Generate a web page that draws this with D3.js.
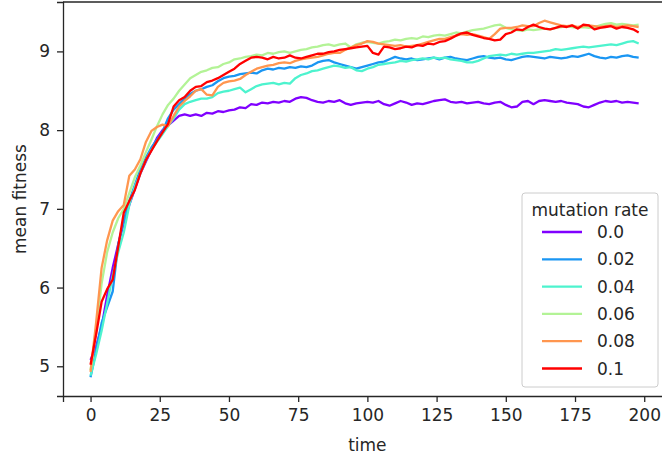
<!DOCTYPE html>
<html lang="en">
<head>
    <meta charset="UTF-8">
    <title>mean fitness</title>
    <style>
        body { margin: 0; background: #fff; }
        text { font-family: "DejaVu Sans", sans-serif; fill: #262626; }
        .axis path, .axis line { stroke: #262626; }
    </style>
</head>
<body>
    <div id="chart"></div>
    <script src="https://d3js.org/d3.v7.min.js"></script>
    <script>
        // sampled every 2 time steps
        const time = d3.range(0, 200, 2);
        const rates = ["0.0", "0.02", "0.04", "0.06", "0.08", "0.1"];
        const colors = ["#8000ff", "#1a96f3", "#4df3ce", "#b3f396", "#ff964f", "#ff0000"];

        const rate0 = [5.08,5.25,5.50,5.90,6.25,6.55,6.82,7.05,7.25,7.45,7.60,7.75,7.90,8.00,8.06,8.12,8.18,8.20,8.18,8.20,
            8.18,8.22,8.21,8.24,8.23,8.25,8.26,8.29,8.28,8.33,8.32,8.35,8.34,8.36,8.35,8.37,8.36,8.40,8.42,8.41,
            8.38,8.36,8.35,8.37,8.36,8.38,8.34,8.32,8.34,8.35,8.36,8.35,8.37,8.33,8.31,8.34,8.37,8.35,8.32,8.34,
            8.33,8.35,8.37,8.38,8.39,8.36,8.35,8.36,8.34,8.35,8.36,8.34,8.33,8.35,8.36,8.32,8.29,8.30,8.36,8.37,
            8.33,8.37,8.38,8.37,8.36,8.37,8.35,8.34,8.33,8.30,8.29,8.32,8.35,8.37,8.36,8.37,8.35,8.36,8.35,8.34];
        const rate002 = [4.86,5.20,5.55,5.75,5.95,6.55,6.85,7.10,7.30,7.50,7.65,7.78,7.88,7.98,8.15,8.26,8.33,8.40,8.46,8.50,
            8.52,8.55,8.57,8.62,8.66,8.68,8.69,8.71,8.72,8.73,8.72,8.76,8.78,8.77,8.79,8.78,8.80,8.79,8.81,8.80,
            8.82,8.86,8.88,8.89,8.86,8.84,8.82,8.80,8.78,8.80,8.82,8.84,8.86,8.87,8.90,8.93,8.91,8.90,8.91,8.89,
            8.90,8.91,8.92,8.90,8.92,8.93,8.91,8.90,8.89,8.91,8.93,8.94,8.92,8.91,8.92,8.90,8.89,8.91,8.93,8.94,
            8.93,8.92,8.91,8.93,8.92,8.91,8.92,8.94,8.93,8.95,8.97,8.94,8.92,8.91,8.93,8.92,8.94,8.95,8.93,8.92];
        const rate004 = [4.88,5.15,5.45,5.80,6.15,6.45,6.70,7.05,7.28,7.45,7.62,7.75,7.85,7.95,8.05,8.15,8.26,8.33,8.36,8.38,
            8.40,8.40,8.42,8.47,8.49,8.50,8.52,8.54,8.48,8.52,8.56,8.58,8.59,8.60,8.58,8.60,8.59,8.66,8.70,8.72,
            8.75,8.76,8.78,8.80,8.82,8.81,8.79,8.80,8.76,8.75,8.78,8.80,8.83,8.84,8.85,8.86,8.88,8.87,8.89,8.90,
            8.91,8.90,8.92,8.91,8.92,8.90,8.89,8.88,8.86,8.86,8.88,8.91,8.94,8.95,8.96,8.95,8.97,8.96,8.97,8.98,
            8.98,8.99,9.00,9.01,9.03,9.02,9.03,9.04,9.05,9.06,9.05,9.06,9.07,9.08,9.09,9.08,9.10,9.12,9.13,9.10];
        const rate006 = [4.95,5.45,6.05,6.45,6.70,6.88,7.00,7.20,7.40,7.55,7.72,7.88,8.05,8.20,8.32,8.40,8.50,8.58,8.66,8.70,
            8.74,8.76,8.79,8.80,8.84,8.86,8.90,8.91,8.93,8.94,8.96,8.95,8.98,8.97,8.99,9.00,8.98,9.00,9.02,9.03,
            9.05,9.06,9.08,9.09,9.07,9.09,9.10,9.05,9.09,9.11,9.12,9.11,9.10,9.12,9.13,9.15,9.14,9.16,9.17,9.16,
            9.19,9.18,9.20,9.21,9.20,9.22,9.24,9.23,9.25,9.27,9.28,9.29,9.31,9.33,9.34,9.30,9.28,9.27,9.26,9.28,
            9.27,9.28,9.29,9.28,9.30,9.31,9.32,9.31,9.30,9.31,9.30,9.31,9.33,9.35,9.36,9.34,9.35,9.34,9.33,9.34];
        const rate008 = [4.93,5.55,6.25,6.60,6.85,6.97,7.05,7.42,7.50,7.63,7.85,7.99,8.04,8.07,8.05,8.18,8.30,8.37,8.43,8.50,
            8.52,8.45,8.44,8.55,8.60,8.62,8.63,8.65,8.70,8.74,8.78,8.80,8.82,8.83,8.85,8.86,8.85,8.88,8.90,8.91,
            8.92,8.93,8.95,8.97,8.98,8.98,9.02,9.05,9.08,9.10,9.13,9.12,9.10,9.09,9.08,9.07,9.08,9.06,9.07,9.08,
            9.10,9.12,9.14,9.16,9.16,9.18,9.20,9.22,9.21,9.22,9.20,9.18,9.16,9.22,9.29,9.30,9.30,9.31,9.33,9.32,
            9.32,9.36,9.39,9.37,9.35,9.33,9.32,9.33,9.31,9.32,9.33,9.32,9.31,9.32,9.33,9.31,9.32,9.33,9.32,9.31];
        const rate01 = [5.02,5.40,5.82,5.98,6.10,6.52,6.95,7.10,7.24,7.45,7.62,7.74,7.86,7.97,8.08,8.30,8.38,8.42,8.50,8.55,
            8.56,8.61,8.63,8.66,8.70,8.74,8.78,8.84,8.88,8.92,8.93,8.92,8.90,8.93,8.91,8.92,8.95,8.92,8.91,8.93,
            8.95,8.97,8.97,8.99,9.00,9.02,9.03,9.04,9.05,9.06,9.07,8.98,8.96,9.06,9.05,9.03,9.04,9.06,9.05,9.08,
            9.07,9.10,9.09,9.12,9.13,9.16,9.20,9.23,9.24,9.21,9.19,9.17,9.16,9.14,9.15,9.22,9.24,9.28,9.27,9.31,
            9.34,9.31,9.29,9.28,9.30,9.32,9.31,9.33,9.29,9.34,9.33,9.28,9.30,9.31,9.32,9.29,9.31,9.30,9.28,9.24];

        const series = [rate0, rate002, rate004, rate006, rate008, rate01];
        const xTicks = [0, 25, 50, 75, 100, 125, 150, 175, 200];
        const yTicks = [5, 6, 7, 8, 9];

        const W = 662, H = 459;
        const fs = 17;
        const margin = { top: 2, right: -7, bottom: 63, left: 63 };
        const width = W - margin.left - margin.right,
              height = H - margin.top - margin.bottom;

        const svg = d3.select("#chart")
            .append("svg")
            .attr("width", W)
            .attr("height", H);

        const g = svg.append("g")
            .attr("transform", "translate(" + margin.left + "," + margin.top + ")");

        const x = d3.scaleLinear()
            .domain([-9.95, 208.95])
            .range([0, width]);

        const y = d3.scaleLinear()
            .domain([4.6225, 9.6275])
            .range([height, 0]);

        const line = d3.line()
            .x((d, i) => x(time[i]))
            .y(d => y(d));

        series.forEach((s, k) => {
            g.append("path")
                .datum(s)
                .attr("fill", "none")
                .attr("stroke", colors[k])
                .attr("stroke-width", 2.3)
                .attr("stroke-linejoin", "round")
                .attr("d", line);
        });

        // axes
        const xAxis = g.append("g")
            .attr("class", "axis")
            .attr("transform", "translate(0," + height + ")")
            .call(d3.axisBottom(x).tickValues(xTicks).tickSize(6).tickPadding(7).tickFormat(d3.format("d")));
        const yAxis = g.append("g")
            .attr("class", "axis")
            .call(d3.axisLeft(y).tickValues(yTicks).tickSize(6).tickPadding(7).tickFormat(d3.format("d")));
        [xAxis, yAxis].forEach(a => {
            a.select(".domain").attr("stroke-width", 1.3);
            a.selectAll(".tick line").attr("stroke-width", 1.3);
            a.selectAll("text").attr("font-size", fs).attr("font-family", "DejaVu Sans").attr("fill", "#262626");
        });

        g.append("line")
            .attr("x1", 0).attr("x2", width)
            .attr("y1", 0).attr("y2", 0)
            .attr("stroke", "#262626").attr("stroke-width", 1.3);

        g.append("text")
            .attr("x", x(100))
            .attr("y", height + 55)
            .attr("text-anchor", "middle")
            .attr("font-size", fs)
            .text("time");

        g.append("text")
            .attr("transform", "translate(-37," + height / 2 + ") rotate(-90)")
            .attr("text-anchor", "middle")
            .attr("font-size", fs)
            .text("mean fitness");

        // legend
        const lg = svg.append("g").attr("transform", "translate(522,193)");
        lg.append("rect")
            .attr("width", 136).attr("height", 194)
            .attr("rx", 3)
            .attr("fill", "#fff").attr("fill-opacity", 0.8)
            .attr("stroke", "#cccccc");
        lg.append("text")
            .attr("x", 68).attr("y", 23)
            .attr("text-anchor", "middle")
            .attr("font-size", fs)
            .text("mutation rate");
        rates.forEach((r, k) => {
            const yy = 39 + k * 27.3;
            lg.append("line")
                .attr("x1", 20).attr("x2", 60)
                .attr("y1", yy).attr("y2", yy)
                .attr("stroke", colors[k]).attr("stroke-width", 2.3);
            lg.append("text")
                .attr("x", 75).attr("y", yy + 6)
                .attr("font-size", fs)
                .text(r);
        });
    </script>
</body>
</html>
